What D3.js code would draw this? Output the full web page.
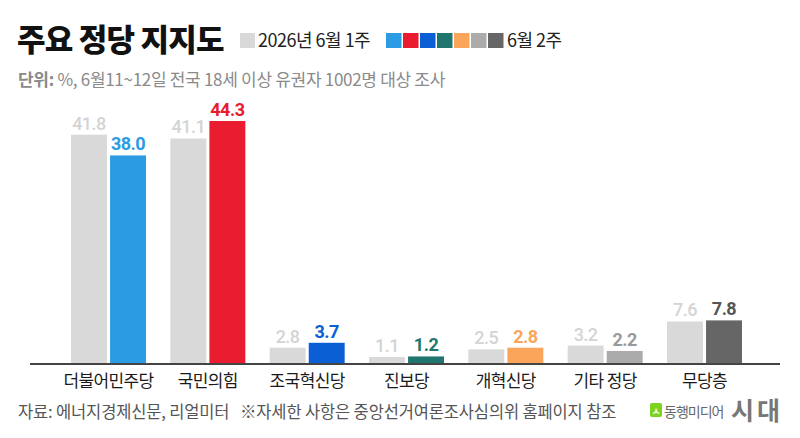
<!DOCTYPE html>
<html>
<head>
<meta charset="utf-8">
<script src="https://cdn.jsdelivr.net/npm/d3@7"></script>
<style>
  body { margin: 0; background: #fff; }
  svg { font-family: "Noto Sans CJK KR", "Noto Sans", sans-serif; }
</style>
</head>
<body>
<svg id="chart"></svg>
<script>
// data
const parties = ['더불어민주당', '국민의힘', '조국혁신당', '진보당', '개혁신당', '기타 정당', '무당층'];
const week1 = [41.8, 41.1, 2.8, 1.1, 2.5, 3.2, 7.6];
const week2 = [38.0, 44.3, 3.7, 1.2, 2.8, 2.2, 7.8];
const week2Colors = ['#2b9be4', '#e91c30', '#0b5fd5', '#20766f', '#fba55b', '#ababab', '#666666'];
const week2LabelColors = ['#2b9be4', '#e91c30', '#0b5fd5', '#20766f', '#fba55b', '#9a9a9a', '#555555'];
const seriesNames = ['2026년 6월 1주', '6월 2주'];

const width = 800, height = 438;
const baseline = 363;
const gray = '#d9d9d9';

const svg = d3.select('#chart')
    .attr('width', width)
    .attr('height', height);

// title
svg.append('text')
    .attr('x', 17).attr('y', 51)
    .attr('font-size', 31).attr('font-weight', 900)
    .attr('letter-spacing', -0.8)
    .attr('fill', '#111')
    .text('주요 정당 지지도');

// legend
const legend = svg.append('g');
legend.append('rect')
    .attr('x', 240).attr('y', 33).attr('width', 15).attr('height', 15)
    .attr('fill', gray);
legend.append('text')
    .attr('x', 258).attr('y', 47)
    .attr('font-size', 18).attr('letter-spacing', -0.5)
    .attr('fill', '#222')
    .text(seriesNames[0]);
legend.selectAll('.sw')
    .data(week2Colors)
  .join('rect')
    .attr('class', 'sw')
    .attr('x', (d, i) => 386 + i * 17)
    .attr('y', 33).attr('width', 15.5).attr('height', 15)
    .attr('fill', d => d);
legend.append('text')
    .attr('x', 507).attr('y', 47)
    .attr('font-size', 18).attr('letter-spacing', -0.5)
    .attr('fill', '#222')
    .text(seriesNames[1]);

// subtitle
const sub = svg.append('text')
    .attr('x', 18).attr('y', 86)
    .attr('font-size', 17).attr('letter-spacing', -0.3)
    .attr('fill', '#8a8a8a');
sub.append('tspan').attr('font-weight', 700).text('단위: ');
sub.append('tspan').text('%, 6월11~12일 전국 18세 이상 유권자 1002명 대상 조사');

// scales
const x0 = d3.scaleBand()
    .domain(parties)
    .range([58.6, 754.4])
    .paddingInner(0.245)
    .paddingOuter(0.125);

const x1 = d3.scaleBand()
    .domain([0, 1])
    .range([0, x0.bandwidth()])
    .paddingInner(0.08);

const y = d3.scaleLinear()
    .domain([0, 44.3])
    .range([baseline, 121]);

const rows = parties.map((p, i) => ({party: p, i: i, v: [week1[i], week2[i]]}));

const groups = svg.selectAll('.grp')
    .data(rows)
  .join('g')
    .attr('class', 'grp')
    .attr('transform', d => `translate(${x0(d.party)},0)`);

groups.selectAll('rect')
    .data(d => d.v.map((v, k) => ({v: v, k: k, i: d.i})))
  .join('rect')
    .attr('x', d => x1(d.k))
    .attr('y', d => y(d.v))
    .attr('width', x1.bandwidth())
    .attr('height', d => baseline - y(d.v))
    .attr('fill', d => d.k === 0 ? gray : week2Colors[d.i]);

groups.selectAll('.val')
    .data(d => d.v.map((v, k) => ({v: v, k: k, i: d.i})))
  .join('text')
    .attr('class', 'val')
    .attr('x', d => x1(d.k) + x1.bandwidth() / 2)
    .attr('y', d => y(d.v) - 5)
    .attr('text-anchor', 'middle')
    .attr('font-family', 'Roboto, "Noto Sans", sans-serif')
    .attr('font-size', 18)
    .attr('font-weight', d => d.k === 0 ? 500 : 700)
    .attr('letter-spacing', -0.5)
    .attr('fill', d => d.k === 0 ? '#d4d4d4' : week2LabelColors[d.i])
    .text(d => d3.format('.1f')(d.v));

// baseline axis
svg.append('line')
    .attr('x1', 30).attr('x2', 780)
    .attr('y1', baseline + 1).attr('y2', baseline + 1)
    .attr('stroke', '#444').attr('stroke-width', 2);

// category labels
svg.selectAll('.cat')
    .data(parties)
  .join('text')
    .attr('class', 'cat')
    .attr('x', d => x0(d) + x0.bandwidth() / 2)
    .attr('y', 387)
    .attr('text-anchor', 'middle')
    .attr('font-size', 17).attr('letter-spacing', -0.6)
    .attr('fill', '#1a1a1a')
    .text(d => d);

// footer
svg.append('text')
    .attr('x', 18).attr('y', 418)
    .attr('font-size', 16.5).attr('letter-spacing', -0.15)
    .attr('fill', '#555')
    .attr('xml:space', 'preserve')
    .text('자료: 에너지경제신문, 리얼미터   ※자세한 사항은 중앙선거여론조사심의위 홈페이지 참조');

// logo
const logo = svg.append('g');
logo.append('rect')
    .attr('x', 650).attr('y', 403).attr('width', 12).attr('height', 14).attr('rx', 2)
    .attr('fill', '#7ed321');
logo.append('text')
    .attr('x', 656).attr('y', 415)
    .attr('text-anchor', 'middle')
    .attr('font-size', 10).attr('font-weight', 700)
    .attr('fill', '#fff')
    .text('ㅅ');
logo.append('text')
    .attr('x', 664).attr('y', 417)
    .attr('font-size', 14).attr('letter-spacing', -1)
    .attr('fill', '#666')
    .text('동행미디어');
logo.append('text')
    .attr('x', 731).attr('y', 420)
    .attr('font-size', 25).attr('font-weight', 700)
    .attr('letter-spacing', 3)
    .attr('fill', '#777')
    .text('시대');
</script>
</body>
</html>
